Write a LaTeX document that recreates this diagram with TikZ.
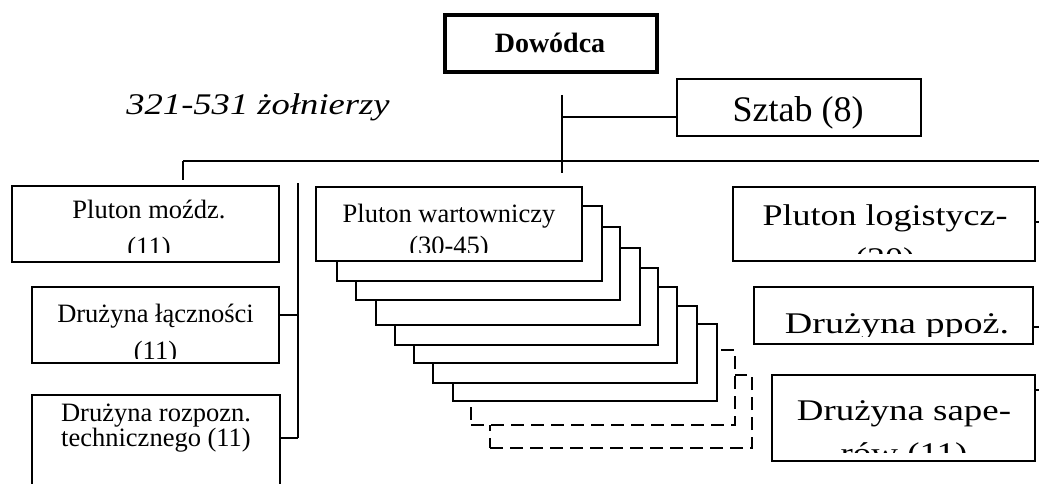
\documentclass[tikz,border=0pt]{standalone}
\usepackage{fontspec}
\usepackage{graphicx}
\setmainfont{Liberation Serif}
\usetikzlibrary{fit}
\tikzset{
  ln/.style={line width=1.8pt},
  box/.style={draw, line width=1.8pt, fill=white, inner sep=0pt, outer sep=0pt},
  bossbox/.style={box, line width=3.4pt},
  dbox/.style={box, dash pattern=on 13pt off 7pt},
  small/.style={font=\fontsize{26.5}{30}\selectfont, inner sep=0pt, anchor=base},
  big/.style={font=\fontsize{30}{34}\selectfont, inner sep=0pt, anchor=base},
}
\begin{document}
\begin{tikzpicture}[x=1pt,y=-1pt]
\fill[white] (0,0) rectangle (1039,484);
\useasboundingbox (0,0) rectangle (1039,484);

% connectors
\coordinate (dtop) at (562,95);
\coordinate (dbot) at (562,173);
\coordinate (sj) at (562,117);
\coordinate (busL) at (183,161);
\coordinate (busR) at (1045,161);
\coordinate (mdrop) at (183,180);
\coordinate (lvT) at (298,183);
\coordinate (lvB) at (298,438);
\coordinate (lt) at (298,315);
\coordinate (r1) at (1045,222);
\coordinate (r2) at (1045,327);
\coordinate (r3) at (1045,390);

% boxes
\node[bossbox, fit={(445,15) (657,72)}] (dow) {};
\node[box, fit={(677,79) (921,136)}] (sztab) {};
\node[box, fit={(12,186) (279,262)}] (mozdz) {};
\node[box, fit={(32,287) (279,363)}] (lacz) {};
\node[box, fit={(32,395) (280,500)}] (rozp) {};

\node[dbox, fit={(490,375) (752,448)}] (wb9) {};
\node[dbox, fit={(471,350) (735,425)}] (wb8) {};
\node[box, fit={(453,324) (717,401)}] (wb7) {};
\node[box, fit={(433,306) (697,383)}] (wb6) {};
\node[box, fit={(414,287) (677,363)}] (wb5) {};
\node[box, fit={(395,268) (658,345)}] (wb4) {};
\node[box, fit={(376,248) (640,325)}] (wb3) {};
\node[box, fit={(356,227) (620,300)}] (wb2) {};
\node[box, fit={(337,206) (602,281)}] (wb1) {};
\node[box, fit={(316,187) (582,261)}] (wart) {};

\node[box, fit={(733,187) (1035,261)}] (logist) {};
\node[box, fit={(754,287) (1033,344)}] (ppoz) {};
\node[box, fit={(772,375) (1035,461)}] (sap) {};

\draw[ln] (dtop) -- (dbot);
\draw[ln] (sj) -- (sj -| sztab.west);
\draw[ln] (busL) -- (busR);
\draw[ln] (busL) -- (mdrop);
\draw[ln] (lvT) -- (lvB);
\draw[ln] (lacz.east |- lt) -- (lt);
\draw[ln] (rozp.east |- lvB) -- (lvB);
\draw[ln] (logist.east |- r1) -- (r1);
\draw[ln] (ppoz.east |- r2) -- (r2);
\draw[ln] (sap.east |- r3) -- (r3);

% texts
\node[font=\fontsize{28}{30}\selectfont\bfseries, inner sep=0pt, anchor=base] (tdow) at (550,53) {Dowódca};
\node[font=\fontsize{30}{32}\selectfont\itshape, inner sep=0pt, anchor=base] (tcount) at (258,115) {\scalebox{1.22}[1]{321-531 żołnierzy}};
\node[font=\fontsize{36}{40}\selectfont, inner sep=0pt, anchor=base] (tsztab) at (798,122) {Sztab (8)};

\begin{scope}
\clip (12,186) rectangle (279,252);
\node[small] (tm1) at (149,218) {Pluton moźdz.};
\node[small] (tm2) at (149,255) {(11)};
\end{scope}
\begin{scope}
\clip (32,287) rectangle (279,358);
\node[small] (tl1) at (155.5,322) {Drużyna łączności};
\node[small] (tl2) at (155.5,359) {(11)};
\end{scope}
\node[small] (tr1) at (156,421) {Drużyna rozpozn.};
\node[small] (tr2) at (156,446) {technicznego (11)};
\begin{scope}
\clip (316,187) rectangle (582,252);
\node[small] (tw1) at (449,222) {Pluton wartowniczy};
\node[small] (tw2) at (449,254) {(30-45)};
\end{scope}
\begin{scope}
\clip (733,187) rectangle (1035,253);
\node[big] (tg1) at (885,225) {\scalebox{1.2}[1]{Pluton logistycz-}};
\node[big] (tg2) at (885,268) {\scalebox{1.2}[1]{(20)}};
\end{scope}
\begin{scope}
\clip (754,287) rectangle (1033,336);
\node[big] (tp1) at (897,333) {\scalebox{1.27}[1]{Drużyna ppoż.}};
\end{scope}
\begin{scope}
\clip (772,375) rectangle (1035,452);
\node[big] (ts1) at (904,420) {\scalebox{1.23}[1]{Drużyna sape-}};
\node[big] (ts2) at (904,463) {\scalebox{1.23}[1]{rów (11)}};
\end{scope}
\end{tikzpicture}
\end{document}
